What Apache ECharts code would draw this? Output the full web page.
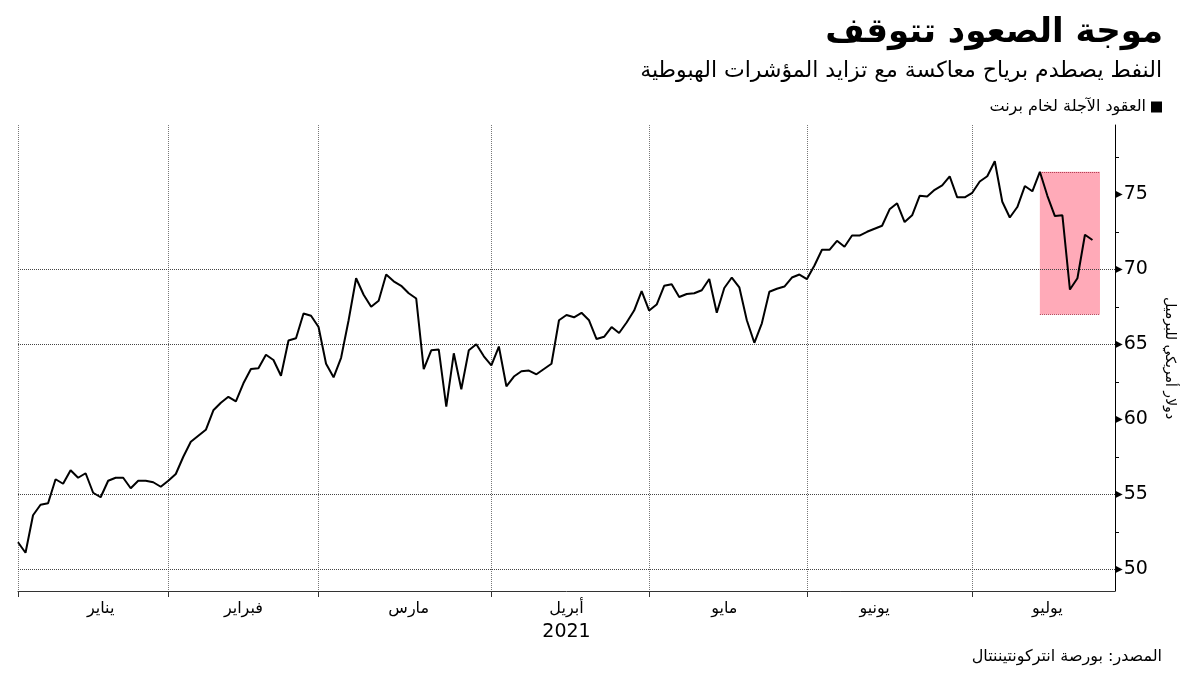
<!DOCTYPE html>
<html><head><meta charset="utf-8">
<script src="https://cdn.jsdelivr.net/npm/echarts@6/dist/echarts.min.js"></script>
<style>html,body{margin:0;padding:0;background:#fff}#c{width:1200px;height:675px}</style>
</head><body><div id="c"></div>
<script>
// Trading days (MM-DD), last three are empty padding days on the axis
const dates = [
 '12-31',
 '01-04','01-05','01-06','01-07','01-08','01-11','01-12','01-13','01-14','01-15','01-18','01-19','01-20','01-21','01-22','01-25','01-26','01-27','01-28','01-29',
 '02-01','02-02','02-03','02-04','02-05','02-08','02-09','02-10','02-11','02-12','02-15','02-16','02-17','02-18','02-19','02-22','02-23','02-24','02-25','02-26',
 '03-01','03-02','03-03','03-04','03-05','03-08','03-09','03-10','03-11','03-12','03-15','03-16','03-17','03-18','03-19','03-22','03-23','03-24','03-25','03-26','03-29','03-30','03-31',
 '04-01','04-05','04-06','04-07','04-08','04-09','04-12','04-13','04-14','04-15','04-16','04-19','04-20','04-21','04-22','04-23','04-26','04-27','04-28','04-29','04-30',
 '05-03','05-04','05-05','05-06','05-07','05-10','05-11','05-12','05-13','05-14','05-17','05-18','05-19','05-20','05-21','05-24','05-25','05-26','05-27','05-28','05-31',
 '06-01','06-02','06-03','06-04','06-07','06-08','06-09','06-10','06-11','06-14','06-15','06-16','06-17','06-18','06-21','06-22','06-23','06-24','06-25','06-28','06-29','06-30',
 '07-01','07-02','07-05','07-06','07-07','07-08','07-09','07-12','07-13','07-14','07-15','07-16','07-19','07-20','07-21','07-22',
 '07-23','07-26','07-27'
];
const brent = [
 51.8,
 51.1,53.6,54.3,54.4,56.0,55.7,56.6,56.1,56.4,55.1,54.8,55.9,56.1,56.1,55.4,55.9,55.9,55.8,55.5,55.9,
 56.35,57.5,58.5,58.9,59.3,60.6,61.1,61.5,61.2,62.4,63.35,63.4,64.3,63.95,62.9,65.25,65.4,67.05,66.9,66.15,
 63.7,62.8,64.1,66.6,69.4,68.3,67.5,67.9,69.65,69.2,68.9,68.4,68.05,63.35,64.6,64.65,60.85,64.4,62.0,64.6,65.0,64.2,63.6,
 64.85,62.2,62.85,63.2,63.25,63.0,63.35,63.7,66.6,66.95,66.8,67.1,66.6,65.35,65.5,66.15,65.75,66.45,67.25,68.55,67.25,
 67.65,68.9,69.0,68.15,68.35,68.4,68.6,69.35,67.1,68.75,69.45,68.8,66.6,65.1,66.4,68.5,68.7,68.85,69.45,69.65,69.35,
 70.25,71.3,71.3,71.9,71.5,72.25,72.25,72.5,72.7,72.9,74.0,74.4,73.15,73.6,74.9,74.85,75.3,75.6,76.2,74.8,74.8,75.1,
 75.85,76.2,77.2,74.5,73.45,74.15,75.55,75.2,76.5,74.9,73.55,73.6,68.65,69.4,72.3,71.95
];
const monthLabelIdx = [11, 30, 52, 73, 94, 114, 137];
const monthNames = ['يناير', 'فبراير', 'مارس', 'أبريل', 'مايو', 'يونيو', 'يوليو'];
const yearLabel = '2021';
const yearUnderIdx = 73;
const monthStartIdx = [0, 20, 40, 63, 84, 105, 127];
const yTickLabels = [50, 55, 60, 65, 70, 75];
const yAllTicks = [50, 52.5, 55, 57.5, 60, 62.5, 65, 67.5, 70, 72.5, 75, 77.5];
const gridValues = [50, 55, 65, 70];
const boxFrom = '07-13', boxTo = '07-23', boxLow = 67, boxHigh = 76.5;

const FONT = 'DejaVu Sans';
const seriesName = 'العقود الآجلة لخام برنت';

const chart = echarts.init(document.getElementById('c'), null, {renderer: 'canvas'});
chart.setOption({
  animation: false,
  backgroundColor: '#fff',
  textStyle: {fontFamily: FONT},
  title: [
    {text: 'موجة الصعود تتوقف', right: 32, top: 11,
     textStyle: {fontFamily: FONT, fontSize: 34, fontWeight: 'bold', color: '#000'}},
    {text: 'النفط يصطدم برياح معاكسة مع تزايد المؤشرات الهبوطية', right: 33, top: 55,
     textStyle: {fontFamily: FONT, fontSize: 22, fontWeight: 'normal', color: '#000'}},
    {text: 'المصدر: بورصة انتركونتيننتال', right: 33, top: 644,
     textStyle: {fontFamily: FONT, fontSize: 16, fontWeight: 'normal', color: '#000'}}
  ],
  legend: {
    data: [seriesName], right: 33, top: 94, align: 'right', icon: 'rect',
    itemWidth: 11, itemHeight: 11, itemGap: 6,
    textStyle: {fontFamily: FONT, fontSize: 16, color: '#000'}
  },
  grid: {left: 18, right: 85, top: 125, bottom: 84, containLabel: false},
  xAxis: {
    type: 'category', data: dates, boundaryGap: false,
    axisLine: {show: true, lineStyle: {color: '#333', width: 1}},
    axisTick: {show: true, inside: false, length: 6, lineStyle: {color: '#333'},
      interval: (i) => monthStartIdx.includes(i)},
    splitLine: {show: true, interval: (i) => monthStartIdx.includes(i),
      lineStyle: {type: 'dotted', color: '#777', width: 1}},
    axisLabel: {
      show: true, interval: (i) => monthLabelIdx.includes(i), margin: 8,
      fontFamily: FONT, fontSize: 16, color: '#000',
      formatter: (v, i) => {
        const k = monthLabelIdx.indexOf(i);
        if (k < 0) return '';
        return i === yearUnderIdx ? '{m|' + monthNames[k] + '}\n{y|' + yearLabel + '}' : '{m|' + monthNames[k] + '}';
      },
      rich: {
        m: {fontFamily: FONT, fontSize: 16, color: '#000', lineHeight: 20},
        y: {fontFamily: FONT, fontSize: 19, color: '#000', lineHeight: 26}
      }
    }
  },
  yAxis: {
    type: 'value', position: 'right', min: 48.55, max: 79.62, scale: true,
    name: 'دولار أمريكي للبرميل', nameLocation: 'middle', nameGap: 48, nameRotate: -90,
    nameTextStyle: {fontFamily: FONT, fontSize: 14, color: '#000'},
    axisLine: {show: true, lineStyle: {color: '#000', width: 1}},
    axisTick: {show: true, inside: false, length: 4, customValues: yAllTicks, lineStyle: {color: '#000'}},
    splitLine: {show: false},
    axisLabel: {
      show: true, margin: 0, customValues: yTickLabels,
      formatter: (v) => (Math.abs(v % 5) < 1e-6 && v >= 50 && v <= 75) ? '{t|▶}{v|' + v + '}' : '',
      rich: {
        t: {fontFamily: FONT, fontSize: 10, color: '#000', padding: [0, 1, 0, 0]},
        v: {fontFamily: FONT, fontSize: 19, color: '#000'}
      }
    }
  },
  series: [
    {
      name: 'helper', type: 'line', data: [], z: 1, silent: true,
      markArea: {
        silent: true,
        itemStyle: {color: '#ffaab8', opacity: 1},
        data: [[{xAxis: boxFrom, yAxis: boxLow}, {xAxis: boxTo, yAxis: boxHigh}]]
      },
      markLine: {
        silent: true, symbol: 'none', label: {show: false},
        lineStyle: {type: 'dotted', color: '#444', width: 1},
        data: gridValues.map(v => ({yAxis: v})).concat([
          [{coord: [boxFrom, boxHigh], lineStyle: {color: '#b03048', type: 'dotted'}}, {coord: [boxTo, boxHigh]}],
          [{coord: [boxFrom, boxLow], lineStyle: {color: '#b03048', type: 'dotted'}}, {coord: [boxTo, boxLow]}]
        ])
      }
    },
    {
      name: seriesName, type: 'line', data: brent, z: 5,
      symbol: 'none', smooth: false,
      lineStyle: {color: '#000', width: 2},
      itemStyle: {color: '#000'}
    }
  ]
});
</script></body></html>
